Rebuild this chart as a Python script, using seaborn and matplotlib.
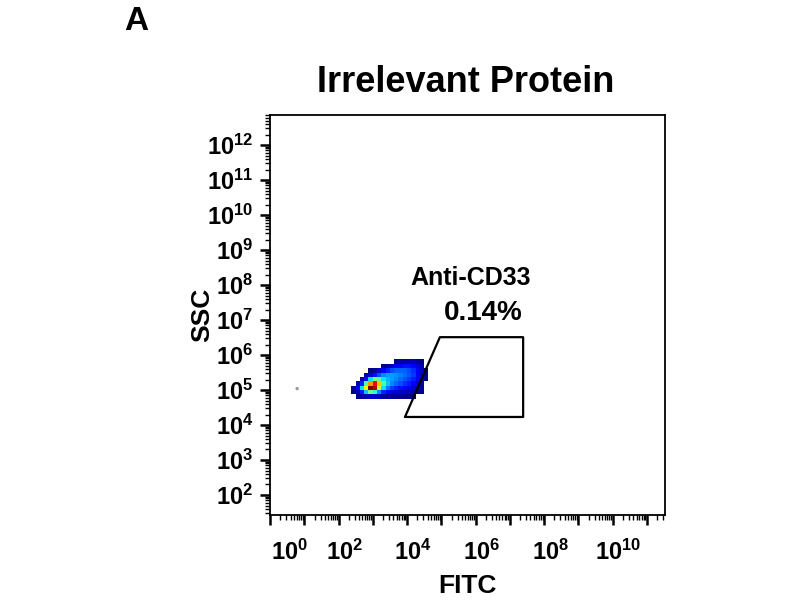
import numpy as np
import pandas as pd
import matplotlib
matplotlib.use('Agg')
import matplotlib.pyplot as plt
import matplotlib.ticker as mticker
from matplotlib.transforms import ScaledTranslation
import seaborn as sns

# event density, binned in log10 units
fitc_centers = [2.44, 2.56, 2.69, 2.81, 2.94, 3.06, 3.19, 3.31, 3.44,
                3.56, 3.69, 3.81, 3.94, 4.06, 4.19, 4.31, 4.44, 4.56]
ssc_centers = [5.81, 5.69, 5.56, 5.44, 5.31, 5.19, 5.06, 4.94, 4.81]
counts = [
    [0, 0, 0, 0, 0, 0, 0, 0, 0, 0, 1, 3, 4, 4, 5, 3, 1, 0],
    [0, 0, 0, 0, 0, 0, 0, 1, 3, 6, 9, 12, 14, 14, 12, 8, 4, 0],
    [0, 0, 0, 0, 1, 3, 6, 11, 16, 20, 22, 22, 22, 20, 17, 12, 6, 1],
    [0, 0, 0, 3, 7, 14, 20, 26, 28, 28, 27, 25, 23, 21, 18, 12, 6, 1],
    [0, 0, 4, 14, 35, 50, 45, 35, 30, 28, 26, 23, 21, 18, 15, 10, 5, 1],
    [0, 4, 16, 45, 75, 90, 70, 45, 32, 26, 23, 20, 17, 15, 12, 7, 3, 0],
    [3, 10, 35, 65, 100, 95, 60, 35, 24, 19, 16, 14, 12, 10, 7, 4, 2, 0],
    [1, 5, 15, 32, 48, 40, 26, 16, 11, 9, 8, 7, 6, 5, 4, 2, 1, 0],
    [0, 1, 3, 5, 7, 6, 5, 3, 2, 2, 2, 2, 1, 1, 1, 0, 0, 0],
]

# lone events outside the main population
stray_fitc = [6.2]
stray_ssc = [1.1e5]

# Anti-CD33 gate (trapezoid)
gate_fitc = [8.7e3, 9.1e4, 2.45e7, 2.45e7, 8.7e3]
gate_ssc = [1.7e4, 3.24e6, 3.24e6, 1.7e4, 1.7e4]
gate_name = 'Anti-CD33'
gate_pct = '0.14%'

x_even_decades = [0, 2, 4, 6, 8, 10]

rows = []
for i, sy in enumerate(ssc_centers):
    for j, sx in enumerate(fitc_centers):
        if counts[i][j] > 0:
            rows.append({'fitc': 10 ** sx, 'ssc': 10 ** sy, 'n': counts[i][j]})
events = pd.DataFrame(rows)

sns.set_style('ticks')
plt.rcParams['font.family'] = ['Liberation Sans', 'DejaVu Sans']
plt.rcParams['font.weight'] = 'bold'
plt.rcParams['mathtext.fontset'] = 'custom'
plt.rcParams['mathtext.bf'] = 'Liberation Sans:bold'
plt.rcParams['mathtext.rm'] = 'Liberation Sans:bold'
for k in ['text.color', 'axes.labelcolor', 'xtick.color', 'ytick.color']:
    plt.rcParams[k] = 'black'

fig = plt.figure(figsize=(8, 6), dpi=100)
ax = fig.add_axes([0.3375, 0.1417, 0.49375, 0.6667])
ax.set_xscale('log')
ax.set_yscale('log')

sns.histplot(data=events, x='fitc', y='ssc', weights='n', log_scale=(True, True),
             binwidth=0.125, binrange=((2.375, 4.625), (4.75, 5.875)),
             cmap=matplotlib.colormaps['jet'], vmin=0, vmax=100, ax=ax)
sns.scatterplot(x=stray_fitc, y=stray_ssc, color='#9a9a9a', s=6,
                edgecolor='none', ax=ax)
ax.plot(gate_fitc, gate_ssc, color='black', lw=1.6)

ax.set_xlim(1, 10 ** 11.53)
ax.set_ylim(10 ** 1.43, 10 ** 12.86)

ax.xaxis.set_major_locator(mticker.LogLocator(base=10, numticks=50))
ax.xaxis.set_minor_locator(mticker.LogLocator(base=10, subs=np.arange(2, 10), numticks=50))
ax.yaxis.set_major_locator(mticker.LogLocator(base=10, numticks=50))
ax.yaxis.set_minor_locator(mticker.LogLocator(base=10, subs=np.arange(2, 10), numticks=50))


def xfmt(v, pos):
    e = int(round(np.log10(v)))
    return r'$\mathbf{10^{%d}}$' % e if e in x_even_decades else ''


def yfmt(v, pos):
    e = int(round(np.log10(v)))
    return r'$\mathbf{10^{%d}}$' % e


ax.xaxis.set_major_formatter(mticker.FuncFormatter(xfmt))
ax.yaxis.set_major_formatter(mticker.FuncFormatter(yfmt))
ax.xaxis.set_minor_formatter(mticker.NullFormatter())
ax.yaxis.set_minor_formatter(mticker.NullFormatter())

ax.tick_params(which='major', length=7, width=1.8, labelsize=17, color='black')
ax.tick_params(which='minor', length=3.5, width=1, color='black')
ax.tick_params(axis='x', which='major', pad=11)
ax.tick_params(axis='y', which='major', pad=5)
for s in ax.spines.values():
    s.set_linewidth(1.3)
    s.set_color('black')

ax.set_xlabel('FITC', fontsize=19, fontweight='bold')
ax.set_ylabel('SSC', fontsize=19, fontweight='bold')
ax.xaxis.set_label_coords(0.4987, -0.148)
ax.yaxis.set_label_coords(-0.14, 0.5)

fig.canvas.draw()
for lab in ax.get_xticklabels():
    dx = 0.06
    if lab.get_text() == xfmt(1, 0):
        dx = 0.2
    lab.set_transform(lab.get_transform() + ScaledTranslation(dx, 0, fig.dpi_scale_trans))

fig.text(0.582, 0.847, 'Irrelevant Protein', ha='center', va='baseline',
         fontsize=26, fontweight='bold')
fig.text(0.155, 0.95, 'A', ha='left', va='baseline', fontsize=24, fontweight='bold')
fig.text(0.588, 0.525, gate_name, ha='center', va='baseline', fontsize=18, fontweight='bold')
fig.text(0.604, 0.467, gate_pct, ha='center', va='baseline', fontsize=20, fontweight='bold')

fig.savefig('out.png', dpi=100)
